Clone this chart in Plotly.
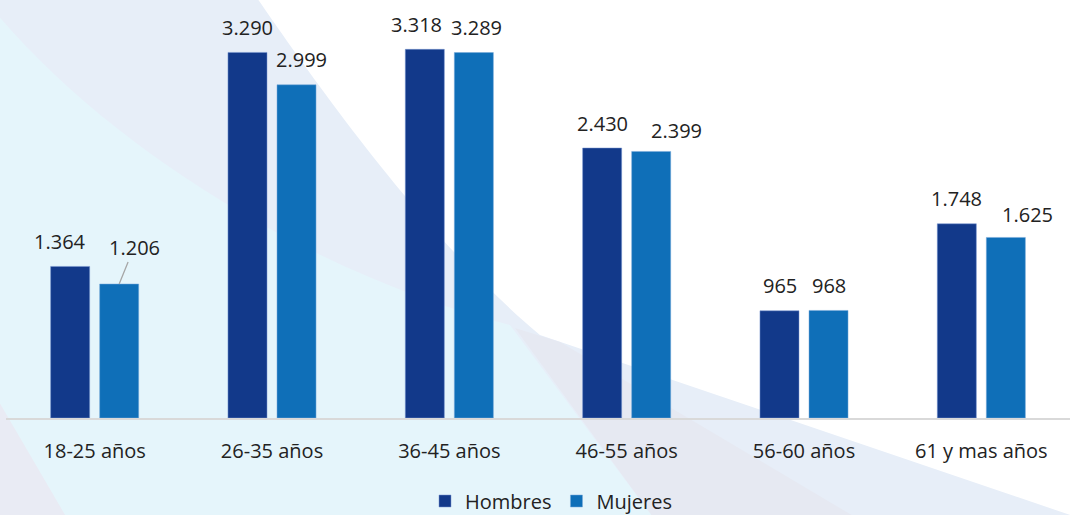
import plotly.graph_objects as go

# data
categorias = ["18-25 años", "26-35 años", "36-45 años", "46-55 años", "56-60 años", "61 y mas años"]
hombres = [1364, 3290, 3318, 2430, 965, 1748]
mujeres = [1206, 2999, 3289, 2399, 968, 1625]

COLOR_H = "#12398a"
COLOR_M = "#0f6fb8"
FONT = "Open Sans"

W, H = 1078, 515

# manual label nudges (px), like the dragged labels in the original
nudge_h = {"18-25 años": (-10, 0), "36-45 años": (-8, 0)}
nudge_m = {"26-35 años": (5, 0), "36-45 años": (3, 0), "46-55 años": (25, -4), "61 y mas años": (22, -2)}


def fmt(v):
    return f"{v:,}".replace(",", ".")


def pp(x, y):
    """pixel -> paper coords"""
    return f"{x / W:.4f},{(H - y) / H:.4f}"


def bg_path(cmds):
    out = []
    for c in cmds:
        op, pts = c[0], c[1:]
        out.append(op + " ".join(pp(*p) for p in pts))
    return " ".join(out) + " Z"


fig = go.Figure()

fig.add_trace(go.Bar(x=categorias, y=hombres, name="Hombres", marker_color=COLOR_H,
                     marker_line=dict(color="rgba(120,150,210,0.5)", width=1)))
fig.add_trace(go.Bar(x=categorias, y=mujeres, name="Mujeres", marker_color=COLOR_M,
                     marker_line=dict(color="rgba(120,170,220,0.5)", width=1)))

# value labels
annots = []
for vals, dx, nudges, serie in [(hombres, -24.5, nudge_h, "h"), (mujeres, 24.5, nudge_m, "m")]:
    for c, v in zip(categorias, vals):
        nx, ny = nudges.get(c, (0, 0))
        a = dict(x=c, y=v, text=fmt(v), xshift=dx + nx, showarrow=False, yshift=25 + ny,
                 yanchor="middle", font=dict(size=20, color="#222222", family=FONT))
        if c == "18-25 años" and serie == "m":
            a.update(showarrow=True, arrowhead=0, arrowwidth=1.3, arrowcolor="#a6a6a6",
                     ax=15, ay=-37, yshift=0, standoff=0)
        annots.append(a)

# background decoration
shapes = [
    dict(type="path", xref="paper", yref="paper", layer="below", line_width=0,
         fillcolor="#e7eef8",
         path=bg_path([("M", (-5, -5)), ("L", (255, -5)),
                       ("C", (300, 60), (420, 235), (540, 335)),
                       ("L", (1085, 520)), ("L", (-5, 520))])),
    dict(type="path", xref="paper", yref="paper", layer="below", line_width=0,
         fillcolor="#e6e9f2",
         path=bg_path([("M", (515, 328)), ("L", (560, 342)), ("L", (860, 520)), ("L", (655, 520))])),
    dict(type="path", xref="paper", yref="paper", layer="below", line_width=0,
         fillcolor="#e5f5fb",
         path=bg_path([("M", (-5, 12)), ("C", (120, 160), (330, 280), (510, 325)),
                       ("L", (655, 520)), ("L", (-5, 520))])),
    dict(type="path", xref="paper", yref="paper", layer="below", line_width=0,
         fillcolor="#e9ebf4",
         path=bg_path([("M", (-5, 395)), ("L", (68, 520)), ("L", (-5, 520))])),
]

fig.update_layout(
    width=W, height=H,
    margin=dict(l=0, r=0, t=0, b=0, autoexpand=False),
    paper_bgcolor="white",
    plot_bgcolor="rgba(0,0,0,0)",
    barmode="group",
    bargap=0.447,
    bargroupgap=0.204,
    font=dict(family=FONT, size=20, color="#222222"),
    showlegend=True,
    legend=dict(orientation="h", x=551 / W, xanchor="center", xref="container",
                y=(H - 501) / H, yanchor="middle", yref="container",
                font=dict(size=20, color="#222222"), bgcolor="rgba(0,0,0,0)"),
    xaxis=dict(domain=[6 / W, 1070 / W], showgrid=False, showline=True,
               linecolor="#d9d9d9", linewidth=2,
               ticks="outside", ticklen=14, tickcolor="rgba(0,0,0,0)",
               tickfont=dict(size=20, color="#222222")),
    yaxis=dict(domain=[(H - 418) / H, (H - 10) / H], visible=False, range=[0, 3672],
               showgrid=False, zeroline=False),
    annotations=annots,
    shapes=shapes,
)

# page has a default body margin; drop it so the figure fills the window
fig.write_html("out.html", config={"displayModeBar": False},
               post_script="document.body.style.margin='0';")
